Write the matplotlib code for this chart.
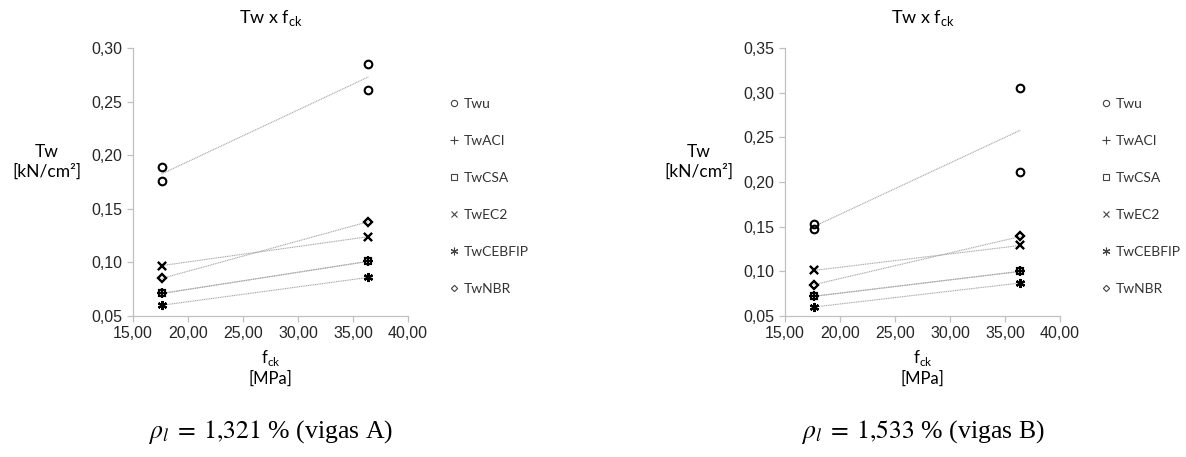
import numpy as np
import matplotlib
matplotlib.use('Agg')
import matplotlib.pyplot as plt
from matplotlib.ticker import FuncFormatter, MultipleLocator
from matplotlib.lines import Line2D

# fck [MPa] of the two concrete groups (two beams each)
fck = [17.6, 17.6, 36.4, 36.4]

series = ['Twu', 'TwACI', 'TwCSA', 'TwEC2', 'TwCEBFIP', 'TwNBR']

# vigas A (rho_l = 1,321 %)
twu_a = [0.189, 0.176, 0.285, 0.261]
aci_a = [0.071, 0.071, 0.101, 0.101]
csa_a = [0.071, 0.071, 0.101, 0.101]
ec2_a = [0.097, 0.097, 0.124, 0.124]
ceb_a = [0.060, 0.060, 0.086, 0.086]
nbr_a = [0.085, 0.085, 0.138, 0.138]

# vigas B (rho_l = 1,533 %)
twu_b = [0.153, 0.147, 0.305, 0.211]
aci_b = [0.072, 0.072, 0.100, 0.100]
csa_b = [0.072, 0.072, 0.100, 0.100]
ec2_b = [0.101, 0.101, 0.129, 0.129]
ceb_b = [0.060, 0.060, 0.087, 0.087]
nbr_b = [0.085, 0.085, 0.139, 0.139]

captions = [r'$\rho_l\;=\;1{,}321$ % (vigas A)', r'$\rho_l\;=\;1{,}533$ % (vigas B)']

plt.rcParams['font.family'] = ['Liberation Sans', 'DejaVu Sans']

markers = ['o', '+', 's', 'x', (6, 2, 0), 'D']
msizes = [5.5, 6.5, 5, 5.5, 6.5, 4.2]
ui_font = ['Lato', 'DejaVu Sans']

fig = plt.figure(figsize=(11.86, 4.57), dpi=100)
W, H = 1186.0, 457.0

def comma(v, pos, nd=2):
    return f'{v:.{nd}f}'.replace('.', ',')

def draw(x0, data, ymax, caption):
    ax = fig.add_axes([x0 / W, 1 - 316 / H, 275 / W, 268 / H])
    for i, y in enumerate(data):
        # linear trendline
        p = np.polyfit(fck, y, 1)
        xs = np.array([min(fck), max(fck)])
        ax.plot(xs, np.polyval(p, xs), color='#a8a8a8', lw=0.8,
                linestyle=(0, (1, 0.6)), zorder=1)
    for i, y in enumerate(data):
        ax.plot(fck, y, linestyle='none', marker=markers[i], ms=msizes[i],
                mfc='none', mec='black', mew=1.5, zorder=3)
    ax.set_xlim(15, 40)
    ax.set_ylim(0.05, ymax)
    ax.xaxis.set_major_locator(MultipleLocator(5))
    ax.yaxis.set_major_locator(MultipleLocator(0.05))
    ax.xaxis.set_major_formatter(FuncFormatter(comma))
    ax.yaxis.set_major_formatter(FuncFormatter(comma))
    for s in ['top', 'right']:
        ax.spines[s].set_visible(False)
    for s in ['left', 'bottom']:
        ax.spines[s].set_color('#c0c0c0')
        ax.spines[s].set_linewidth(0.9)
    ax.tick_params(colors='#c0c0c0', labelcolor='#262626', labelsize=11.5,
                   length=4, width=0.9)

    cx = x0 + 137.5
    fig.text(cx / W, 1 - 18 / H, r'Tw x f$_\mathregular{ck}$', ha='center', va='center',
             fontsize=13, family=ui_font)
    fig.text((x0 - 86) / W, 1 - 162 / H, 'Tw\n[kN/cm²]', ha='center', va='center',
             fontsize=12.5, family=ui_font, linespacing=1.3)
    fig.text(cx / W, 1 - 367 / H, r'f$_\mathregular{ck}$' + '\n[MPa]', ha='center',
             va='center', fontsize=12, family=ui_font, linespacing=1.2)
    fig.text(cx / W, 1 - 432 / H, caption, ha='center', va='center',
             fontsize=18.5, family=['Liberation Serif', 'DejaVu Serif'],
             math_fontfamily='stix')

    handles = [Line2D([], [], linestyle='none', marker=markers[i], ms=msizes[i] - 1,
                      mfc='none', mec='#444444', mew=0.8) for i in range(len(series))]
    leg = ax.legend(handles, series, loc='upper left',
                    bbox_to_anchor=((x0 + 317) / W, 1 - 98 / H),
                    bbox_transform=fig.transFigure, frameon=False,
                    prop={'family': ui_font, 'size': 10},
                    labelspacing=1.8, handlelength=0.6, handletextpad=0.4,
                    borderpad=0, borderaxespad=0)
    for t in leg.get_texts():
        t.set_color('#333333')
    return ax

draw(133, [twu_a, aci_a, csa_a, ec2_a, ceb_a, nbr_a], 0.30, captions[0])
draw(785, [twu_b, aci_b, csa_b, ec2_b, ceb_b, nbr_b], 0.35, captions[1])

fig.savefig('out.png', dpi=100)
